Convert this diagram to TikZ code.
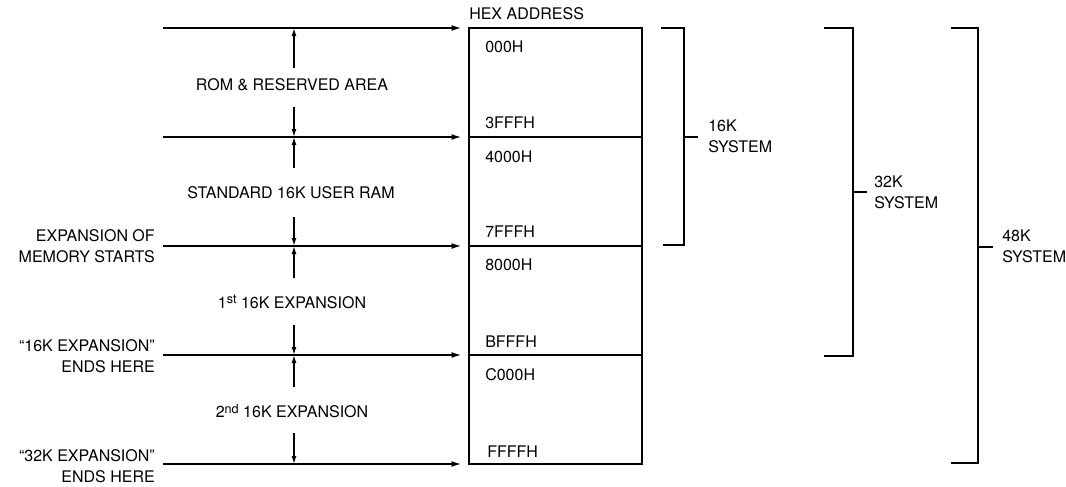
\documentclass[tikz,border=0pt]{standalone}
\usepackage{fontspec}
\setmainfont{TeX Gyre Heros}
\usetikzlibrary{arrows.meta}
\newcommand{\supx}[1]{\raisebox{0.55ex}{\fontsize{9.5}{10}\selectfont #1}}
\begin{document}
\begin{tikzpicture}[x=0.75pt,y=-0.75pt,
  every node/.style={font=\fontsize{12}{15.75}\selectfont, inner sep=0pt},
  ln/.style={line width=1.25pt},
  harrow/.style={ln,-{Latex[length=7.5pt,width=4.5pt]},shorten >=5pt},
  varrow/.style={line width=1.1pt,-{Latex[length=6pt,width=3.8pt]}},
  cell/.style={draw,ln,minimum width=129.75pt,minimum height=81.75pt},
  brk/.style={ln},
  lbl/.style={align=left,anchor=west},
  rlbl/.style={align=right,anchor=east}]
\useasboundingbox (0,0) rectangle (1066,486);
\fill[white] (0,0) rectangle (1066,486);

% memory cells
\node[cell] (c1) at (555.5,82.5) {};
\node[cell] (c2) at (555.5,191.5) {};
\node[cell] (c3) at (555.5,300.5) {};
\node[cell] (c4) at (555.5,409.5) {};
\node[anchor=west] (hex) at (469,14) {HEX ADDRESS};

% hex labels
\node[anchor=west] (h1) at (485,47) {000H};
\node[anchor=west] (h2) at (485,123) {3FFFH};
\node[anchor=west] (h3) at (485,157) {4000H};
\node[anchor=west] (h4) at (485,232) {7FFFH};
\node[anchor=west] (h5) at (485,265) {8000H};
\node[anchor=west] (h6) at (485,342) {BFFFH};
\node[anchor=west] (h7) at (485,375) {C000H};
\node[anchor=west] (h8) at (487,452) {FFFFH};

% horizontal arrows
\coordinate (a0) at (163,28);
\coordinate (a1) at (163,137);
\coordinate (a2) at (163,246);
\coordinate (a3) at (163,355);
\coordinate (a4) at (163,464);
\draw[harrow] (a0) -- (a0 -| c1.west);
\draw[harrow] (a1) -- (a1 -| c1.west);
\draw[harrow] (a2) -- (a2 -| c2.west);
\draw[harrow] (a3) -- (a3 -| c3.west);
\draw[harrow] (a4) -- (a4 -| c4.west);

% zone labels
\node (z1) at (292,85) {ROM \& RESERVED AREA};
\node (z2) at (291,193) {STANDARD 16K USER RAM};
\node (z3) at (292,302) {1\supx{st} 16K EXPANSION};
\node (z4) at (292,411) {2\supx{nd} 16K EXPANSION};

% vertical arrows
\coordinate (u1) at (294,68);  \coordinate (t1) at (294,28);
\coordinate (d1) at (294,107); \coordinate (e1) at (294,137);
\coordinate (u2) at (294,168); \coordinate (t2) at (294,137);
\coordinate (d2) at (294,217); \coordinate (e2) at (294,246);
\coordinate (u3) at (294,278); \coordinate (t3) at (294,246);
\coordinate (d3) at (294,325); \coordinate (e3) at (294,355);
\coordinate (u4) at (294,387); \coordinate (t4) at (294,355);
\coordinate (d4) at (294,433); \coordinate (e4) at (294,464);
\foreach \i in {1,2,3,4}{
  \draw[varrow] (u\i) -- (t\i);
  \draw[varrow] (d\i) -- (e\i);
}

% left labels
\node[rlbl] (l1) at (155,246) {EXPANSION OF\\MEMORY STARTS};
\node[rlbl] (l2) at (155,356) {“16K EXPANSION”\\ENDS HERE};
\node[rlbl] (l3) at (155,466) {“32K EXPANSION”\\ENDS HERE};

% brackets
\draw[brk] (661,28) -- (684,28) -- (684,245) -- (663,245);
\coordinate (k16) at (684,137);
\coordinate (k16e) at (698,137);
\draw[brk] (k16) -- (k16e);
\node[lbl] (s16) at (708,136) {16K\\SYSTEM};

\draw[brk] (824,28) -- (853,28) -- (853,356) -- (824,356);
\coordinate (k32) at (853,192);
\coordinate (k32e) at (867,192);
\draw[brk] (k32) -- (k32e);
\node[lbl] (s32) at (874,192) {32K\\SYSTEM};

\draw[brk] (951,28) -- (978,28) -- (978,463) -- (951,463);
\coordinate (k48) at (978,247);
\coordinate (k48e) at (993,247);
\draw[brk] (k48) -- (k48e);
\node[lbl] (s48) at (1002,246) {48K\\SYSTEM};
\end{tikzpicture}
\end{document}
